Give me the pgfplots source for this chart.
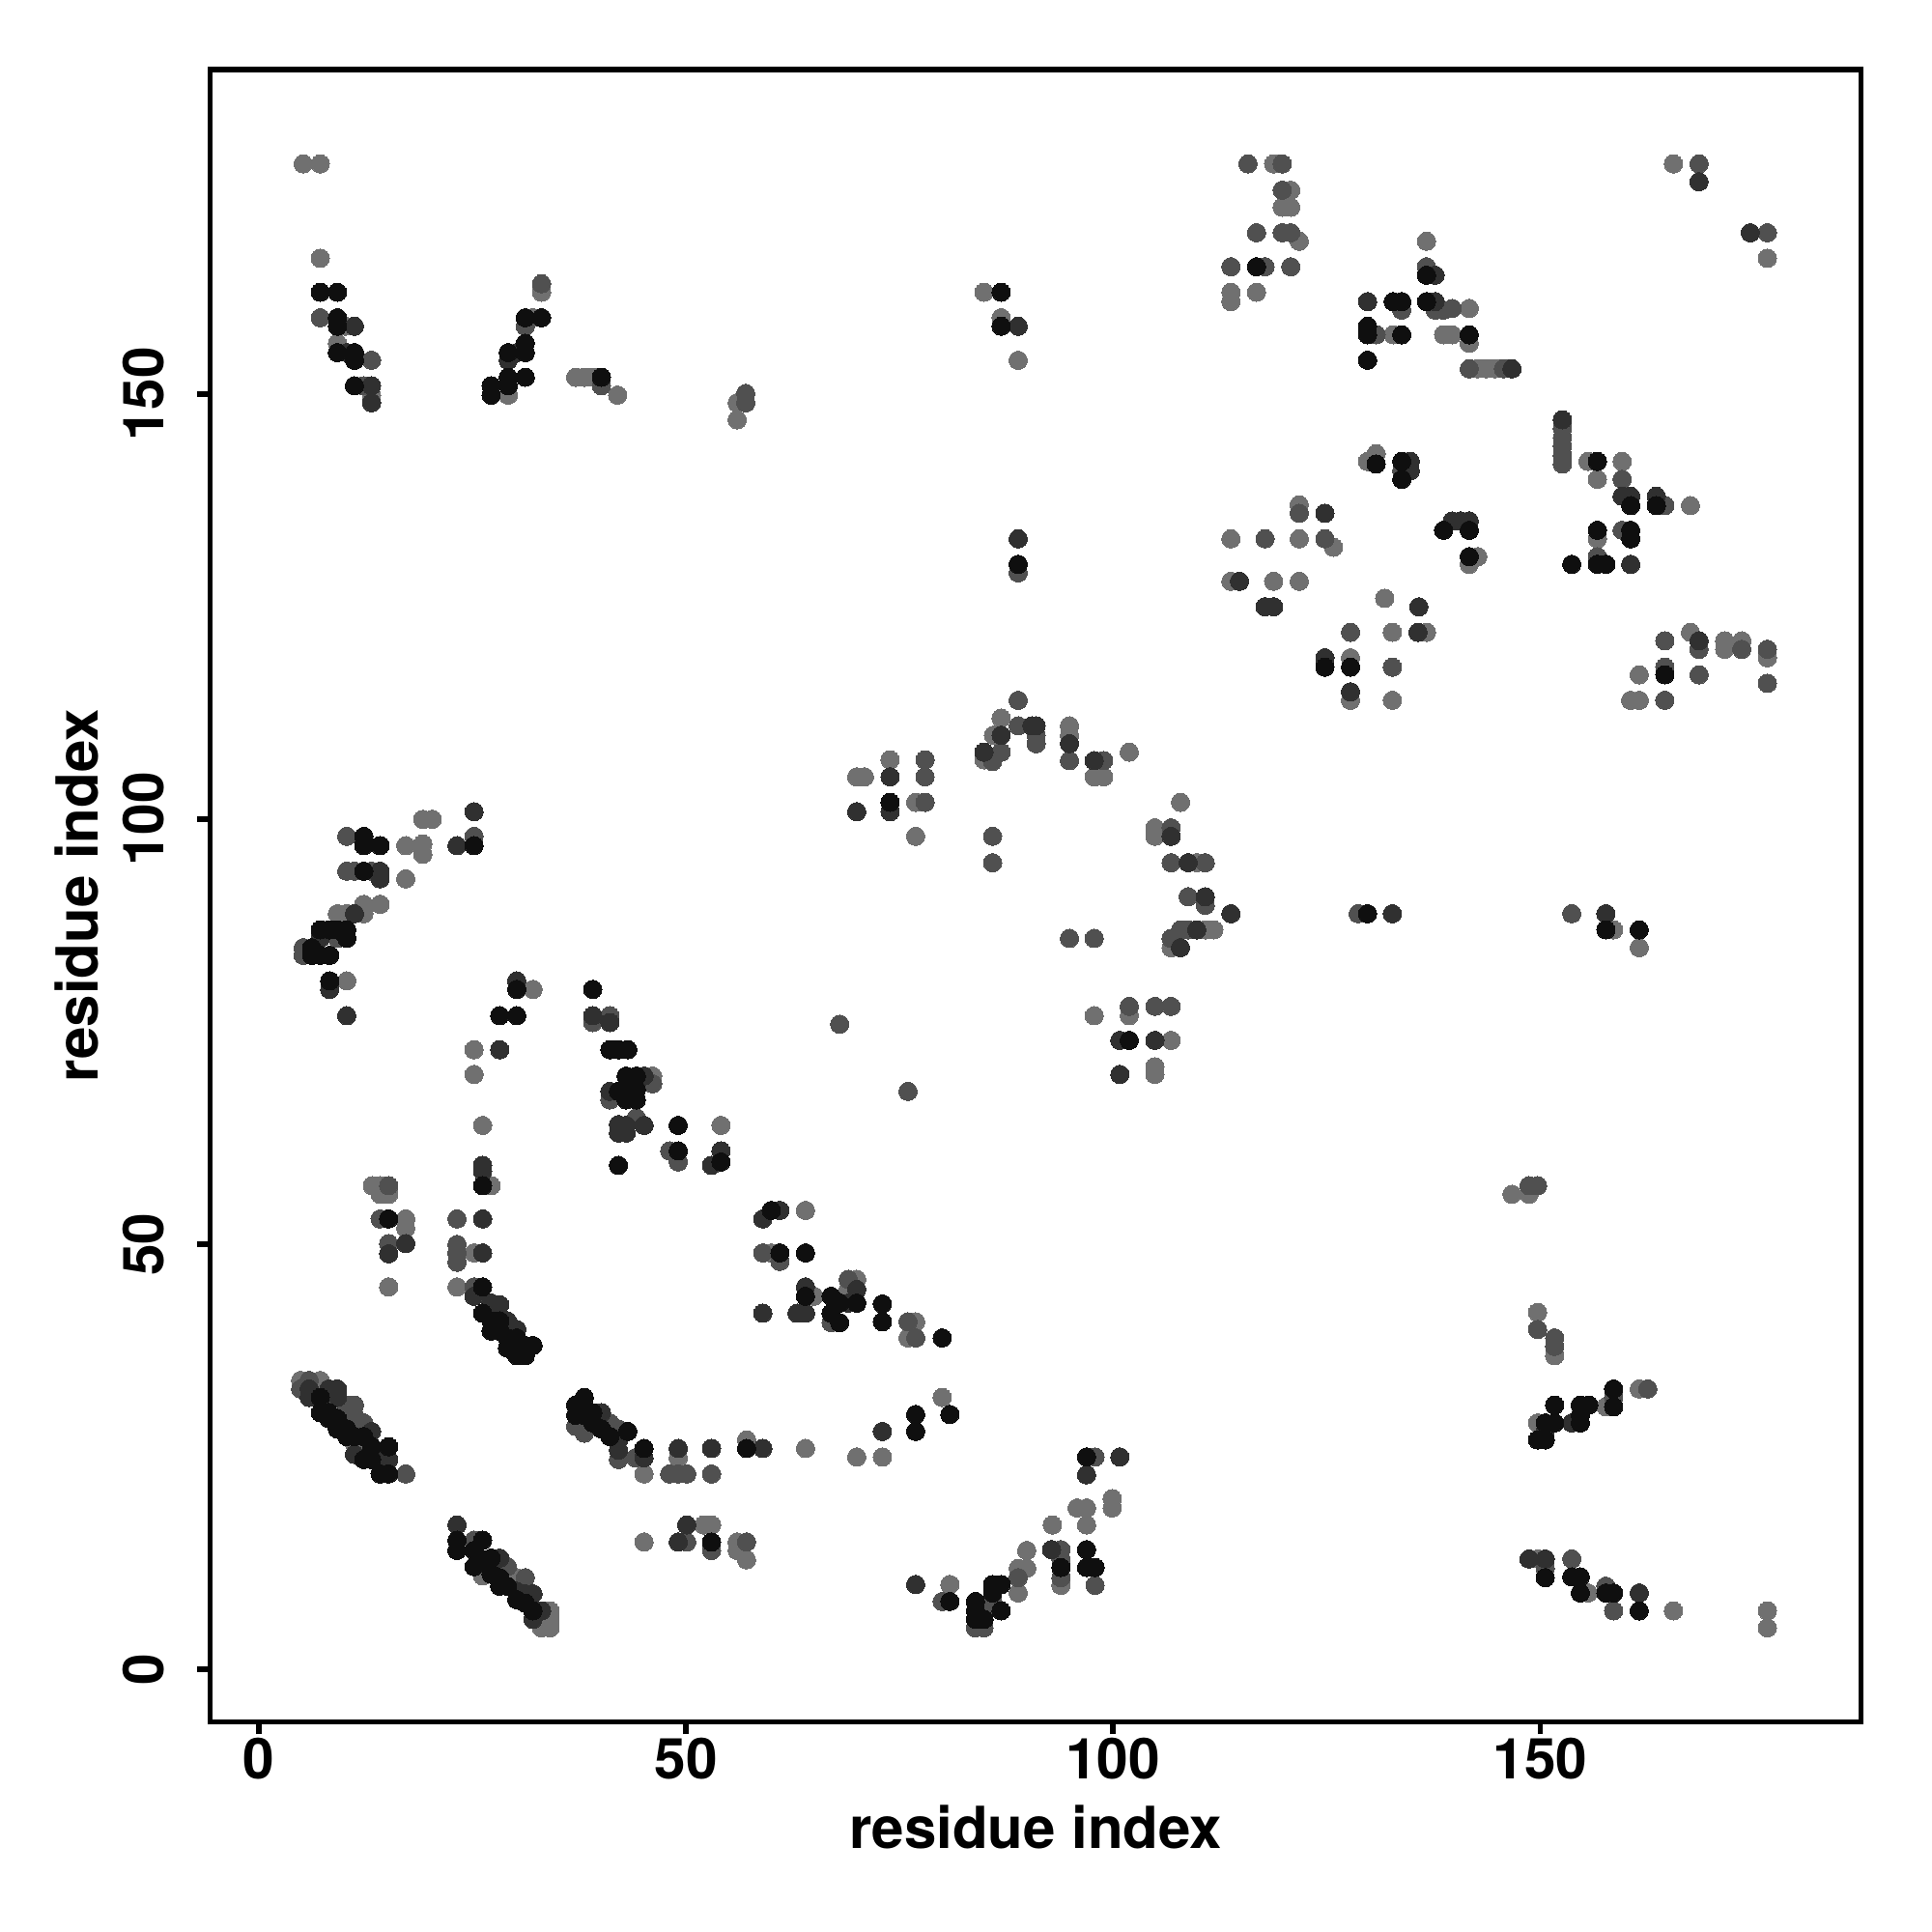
\documentclass[border=0pt]{standalone}
\usepackage{pgfplots}
\pgfplotsset{compat=1.18}
\usepackage{fontspec}
\setmainfont{TeX Gyre Heros}
\definecolor{cK}{HTML}{0F0F0F}
\definecolor{cD}{HTML}{303030}
\definecolor{cM}{HTML}{505050}
\definecolor{cL}{HTML}{707070}
\begin{document}
\begin{tikzpicture}[font=\fontsize{12}{14}\selectfont\bfseries]
\begin{axis}[
  scale only axis, width=341.8pt, height=342.1pt,
  xmin=-5.7, xmax=187.56, ymin=-6.16, ymax=188.2,
  axis line style={line width=1.1pt},
  xtick={0,50,100,150}, ytick={0,50,100,150},
  tick align=outside, major tick length=2.6pt,
  tick style={line width=1.1pt, black},
  xtick pos=bottom, ytick pos=left,
  /pgf/number format/assume math mode=true,
  ticklabel style={font=\fontsize{11.7}{14}\selectfont\bfseries},
  xticklabel style={anchor=north, inner sep=0pt, yshift=-0.5pt},
  yticklabel style={xshift=-6.6pt, rotate=90, anchor=south, inner sep=0pt},
  xlabel={residue index}, ylabel={residue index},
  xlabel style={at={(axis description cs:0.5,-0.0637)}, anchor=center},
  ylabel style={at={(axis description cs:-0.0805,0.5)}, anchor=center},
]
\addplot[only marks, mark=*, mark size=1.9pt, color=cL, mark options={line width=0pt, fill=cL}] coordinates {
(5.2,177.1)(7.2,177.1)(7.2,166.0)(10.1,158.0)(9.2,156.0)(13.2,149.9)(33.1,162.0)(32.1,159.0)(29.2,149.9)(37.1,152.0)(38.1,152.0)(39.1,152.0)(42.0,149.9)
(56.0,149.0)(56.0,147.0)(84.9,162.0)(86.9,159.0)(88.9,154.0)
(118.8,177.1)(120.8,174.0)(119.8,172.0)(120.8,172.0)(121.8,168.0)(113.8,162.0)(113.8,160.9)(116.8,162.0)(136.7,168.0)(130.8,157.0)(132.8,157.0)(138.7,157.0)(129.8,142.1)(130.8,143.0)(121.8,137.0)(113.8,133.0)(121.8,133.0)(125.8,132.0)(113.8,128.0)(118.8,128.0)(121.8,128.0)(131.8,126.0)
(165.6,177.1)(176.6,166.0)(141.7,160.1)(139.7,157.0)(141.7,156.0)(142.7,153.0)(143.7,153.0)(144.7,153.0)(155.6,142.1)(159.6,142.1)(156.7,140.0)(167.6,136.9)(142.7,130.9)(141.7,130.0)(156.7,133.0)
(19.2,100.0)(20.3,100.0)(17.2,96.9)(19.2,97.1)(19.2,95.9)(17.2,93.0)(9.2,88.9)(10.3,88.9)(12.3,90.0)(12.3,88.9)(14.2,90.0)(10.3,81.0)(32.1,80.0)(25.2,72.9)(25.2,70.0)(26.2,64.0)
(46.1,69.8)(54.1,64.0)(70.0,105.0)(70.9,105.0)(73.9,107.0)(76.9,102.0)(76.9,98.0)(86.9,111.9)(86.0,109.9)(84.9,107.0)
(132.7,122.0)(136.7,122.0)(127.8,119.0)(127.8,114.0)(132.7,114.0)(94.9,111.0)(94.9,109.9)(97.8,105.0)(98.9,105.0)(101.9,107.9)(107.9,102.0)(104.9,99.0)(104.9,98.0)(109.8,94.9)(110.8,87.0)(111.8,87.0)(106.8,84.9)(97.8,76.9)(101.9,76.9)(106.8,74.0)(104.9,70.9)(104.9,70.0)
(167.6,122.0)(171.6,121.0)(171.6,120.0)(173.6,121.0)(176.6,119.0)(161.6,117.0)(160.6,114.0)(161.6,114.0)(158.6,87.0)(161.6,84.9)
(13.3,56.9)(14.2,56.9)(14.2,55.9)(15.2,55.9)(27.2,56.9)(17.2,53.0)(17.2,51.9)(15.2,45.0)(23.2,45.0)(25.2,49.0)(4.9,34.0)(7.2,34.0)(11.2,26.5)(26.2,11.0)(30.2,10.8)(34.1,6.9)(34.1,5.9)(33.1,4.9)(34.1,4.9)
(64.0,54.0)(60.0,49.0)(65.0,43.9)(69.0,44.7)(70.0,45.9)(76.9,40.9)(76.0,39.0)(80.0,32.0)(70.0,25.0)(73.0,25.0)(64.0,26.0)(57.1,27.0)(49.1,24.9)(45.1,23.0)(52.1,17.0)(53.0,17.0)(45.1,15.0)(56.0,15.0)(56.0,14.0)(57.1,12.9)(80.9,10.0)(88.9,9.0)(88.9,11.9)(89.9,11.9)(89.9,14.0)
(95.8,19.0)(96.9,19.0)(99.9,20.1)(99.9,19.0)(92.9,17.0)(96.9,17.0)(93.9,9.9)
(146.7,55.9)(148.7,55.9)(149.7,42.0)(151.7,36.9)(157.7,30.9)(161.6,33.0)(149.7,29.0)(149.7,13.0)(155.6,9.0)(165.6,6.9)(176.6,6.9)(176.6,4.9)
};
\addplot[only marks, mark=*, mark size=1.9pt, color=cM, mark options={line width=0pt, fill=cM}] coordinates {
(7.2,159.0)(13.2,154.0)(12.3,151.0)(33.1,163.0)(31.2,158.0)(40.1,151.0)
(57.0,150.1)(57.0,149.0)
(115.8,177.1)(119.8,177.1)(119.8,174.0)(116.8,169.0)(119.8,169.0)(120.8,169.0)(113.8,165.0)(117.8,165.0)(120.8,165.0)(136.7,165.0)(133.8,159.9)(137.7,159.9)(138.7,159.9)(130.8,157.0)(133.8,141.0)(121.8,136.0)(117.8,133.0)(124.8,133.0)
(168.6,177.1)(176.6,169.0)
(139.7,160.1)(141.7,153.0)(145.7,153.0)(152.6,146.0)(152.6,144.9)(152.6,143.9)(152.6,142.8)(152.6,141.8)(159.6,140.0)(164.6,136.9)(159.6,134.0)(156.7,130.9)(88.9,129.0)
(10.3,98.0)(25.2,98.0)(10.3,93.9)(11.2,93.9)(13.2,93.9)(9.2,86.0)(5.2,84.9)(5.2,84.0)(39.1,76.1)(41.1,76.9)(41.1,67.0)
(46.1,68.9)(44.2,64.9)(48.1,61.0)(49.1,59.7)(68.0,75.9)(76.0,68.0)(78.0,107.0)(78.0,105.0)(78.0,102.0)(85.9,98.0)(85.9,94.9)(88.9,114.0)(88.9,111.0)(85.9,106.8)(86.9,107.9)
(127.8,122.0)(132.7,117.9)(91.0,109.9)(91.0,108.9)(94.9,106.9)(98.9,106.9)(106.8,99.0)(106.8,94.9)(110.8,94.9)(108.8,90.9)(110.8,89.9)(106.8,86.0)(107.9,87.0)(108.8,87.0)(94.9,86.0)(97.8,86.0)(128.7,88.9)(101.9,78.0)(104.9,78.0)(106.8,78.0)
(164.6,121.0)(168.6,120.0)(173.6,120.0)(176.6,120.0)(176.6,116.0)(164.6,117.9)(168.6,117.0)(164.6,114.0)(153.7,88.9)
(15.2,56.9)(14.2,53.0)(15.2,50.1)(23.2,53.0)(23.2,50.0)(23.2,49.0)(23.2,47.9)(25.2,45.0)(5.9,34.0)(4.9,33.0)(10.3,31.1)(11.2,31.1)(11.2,29.9)(12.3,29.0)(37.1,28.6)(38.1,27.8)(41.1,29.0)(42.1,28.3)(42.1,24.7)(25.2,15.2)(29.1,12.1)(31.2,10.8)(17.2,23.0)
(59.0,49.0)(61.0,48.0)(67.0,40.8)(69.0,45.9)(76.0,40.9)(76.9,39.0)(44.1,24.9)(48.1,23.0)(49.1,23.0)(50.1,23.0)(53.0,23.0)(50.1,15.0)(53.0,14.0)(57.1,15.0)(80.0,8.0)(83.9,4.9)(84.9,4.9)(84.9,6.9)(85.9,8.0)(88.9,10.8)
(97.9,25.0)(93.9,14.1)(93.9,12.9)(93.9,10.8)(97.9,9.9)
(148.7,56.9)(149.7,56.9)(149.7,40.0)(151.7,39.0)(151.7,38.0)(158.6,32.0)(162.6,33.0)(150.6,11.9)(153.7,13.0)(157.7,9.8)(158.6,6.9)
};
\addplot[only marks, mark=*, mark size=1.9pt, color=cD, mark options={line width=0pt, fill=cD}] coordinates {
(11.2,158.0)(10.3,154.9)(13.2,151.0)(13.2,149.0)(30.2,154.9)(29.2,154.0)
(88.9,158.0)(88.9,133.0)
(137.7,160.9)(137.7,164.0)(129.8,160.9)(134.8,142.1)(134.8,141.0)(124.8,136.0)(117.8,125.0)(118.8,125.0)(135.8,125.0)(114.8,128.0)
(168.6,175.0)(174.6,169.0)(146.7,153.0)(152.6,147.0)(159.6,138.0)(160.6,138.0)(163.6,138.0)(139.7,135.1)(140.7,135.1)(141.7,135.1)(160.6,130.0)
(25.2,100.9)(23.2,96.9)(14.2,93.9)(14.2,93.0)(11.2,88.9)(7.2,86.0)(8.3,80.0)(10.3,76.9)(30.2,81.0)(28.2,72.9)(39.1,76.9)(41.1,76.1)(26.2,59.3)(41.1,68.0)(42.1,64.1)(42.1,63.1)
(45.1,69.8)(45.1,64.0)(43.0,64.0)(43.0,63.1)(54.1,61.0)(53.0,59.3)(70.0,100.9)(73.9,105.0)(73.9,100.9)(86.9,109.9)(90.5,111.0)(84.9,107.9)
(135.7,122.0)(124.8,119.0)(127.8,115.0)(91.0,111.0)(94.9,108.9)(97.8,106.9)(106.8,98.0)(108.8,94.9)(110.8,90.9)(113.8,88.9)(109.8,87.0)(107.9,84.9)(132.7,88.9)(100.8,74.0)(104.9,74.0)(100.8,70.0)
(168.6,121.0)(157.7,88.9)
(26.2,58.6)(26.2,53.0)(17.2,50.1)(15.2,48.9)(26.2,49.0)(25.2,43.9)(27.2,43.1)(28.2,42.9)(29.1,41.0)(30.2,40.0)(5.9,33.0)(5.9,32.0)(8.2,33.0)(9.2,33.0)(9.2,32.0)(13.2,28.0)(13.2,26.2)(14.2,24.7)(15.2,24.7)(11.2,25.3)(40.1,30.2)(42.1,27.0)(42.1,25.8)(23.2,17.0)(28.2,13.1)(30.2,9.2)(31.2,8.9)(32.1,8.9)(33.1,6.9)(32.1,5.9)
(61.0,54.0)(59.0,53.0)(64.0,45.0)(59.0,41.9)(63.0,41.9)(64.0,41.9)(69.0,43.1)(70.0,44.7)(73.0,28.0)(59.0,26.0)(53.0,26.0)(49.1,26.0)(45.1,24.9)(50.1,17.0)(49.1,15.0)(76.9,10.0)
(100.8,25.0)(96.9,22.9)(92.8,14.1)
(148.7,13.0)(150.6,13.0)(161.6,9.0)(150.6,28.0)(153.7,29.0)
};
\addplot[only marks, mark=*, mark size=1.9pt, color=cK, mark options={line width=0pt, fill=cK}] coordinates {
(7.2,162.0)(9.2,162.0)(9.2,159.0)(9.2,158.0)(9.2,154.9)(11.2,154.9)(11.2,154.0)(11.2,151.0)
(31.2,159.0)(33.1,159.0)(31.2,156.0)(31.2,154.9)(29.2,154.9)(31.2,152.0)(29.2,152.0)(29.2,151.0)(27.2,151.0)(27.2,149.9)(40.1,152.0)
(86.9,162.0)(86.9,158.0)(88.9,130.0)
(116.8,165.0)(136.7,164.0)(132.8,160.9)(133.8,160.9)(136.7,160.9)(129.8,158.0)(129.8,157.0)(133.8,157.0)(129.8,154.0)(130.8,141.8)(133.8,142.1)(133.8,140.0)(138.7,134.0)
(141.7,157.0)(156.7,142.1)(160.6,136.9)(163.6,136.9)(141.7,134.0)(141.7,130.9)(156.7,134.0)(160.6,134.0)(160.6,133.0)(153.7,130.0)(156.7,130.0)(157.7,130.0)
(12.3,98.0)(12.3,96.9)(14.2,96.9)(25.2,96.9)(12.3,93.9)(7.2,87.0)(8.3,87.0)(9.2,87.0)(10.3,87.0)(10.3,86.0)(6.2,84.0)(7.2,84.0)(8.3,84.0)(6.2,84.9)(8.3,81.0)(30.2,80.0)(28.2,76.9)(30.2,76.9)(39.1,80.0)(41.1,72.9)(42.1,72.9)(42.1,68.0)
(43.2,72.9)(43.0,69.8)(43.0,68.6)(43.0,67.0)(44.2,69.8)(44.2,68.2)(44.2,67.0)(49.1,64.0)(49.1,61.0)(54.1,59.7)(42.1,59.3)
(73.9,102.0)
(124.8,117.9)(127.8,117.9)(129.8,88.9)(101.9,74.0)
(164.6,117.0)(157.7,87.0)(161.6,87.0)
(26.2,56.9)(15.2,53.0)(26.2,45.0)(26.2,41.9)(27.2,41.0)(28.2,41.0)(27.2,39.8)(28.2,39.8)(29.1,39.0)(30.2,39.0)(31.2,38.1)(32.1,38.1)(29.1,37.8)(30.2,36.9)(31.2,36.9)
(7.2,32.0)(7.2,30.2)(8.2,30.2)(8.2,29.5)(9.2,29.5)(9.2,28.3)(10.3,28.3)(10.3,27.4)(11.2,27.4)(12.3,27.4)(13.2,26.2)(15.2,26.2)(12.3,24.7)(13.2,24.7)(14.2,23.0)(15.2,23.0)
(38.1,32.0)(37.1,31.1)(37.1,29.9)(38.1,29.9)(39.1,30.2)(39.1,29.0)(40.1,28.3)(41.1,27.4)
(23.2,15.2)(23.2,14.0)(26.2,15.2)(25.2,14.0)(25.2,12.1)(26.2,12.9)(27.2,13.1)(27.2,11.2)(28.2,10.8)(28.2,9.8)(29.1,9.8)(30.2,8.2)(31.2,7.8)(32.1,6.9)
(60.0,54.0)(61.0,49.0)(64.0,49.0)(64.0,43.9)(67.0,43.9)(67.0,41.9)(68.0,43.1)(68.0,40.8)(70.0,43.1)(73.0,43.0)(73.0,40.9)(80.0,39.0)(80.9,30.0)(76.9,30.0)(76.9,28.0)(57.1,26.0)(45.1,26.0)(43.2,28.0)(53.0,15.0)(80.9,8.0)(83.9,8.0)(83.9,6.9)(83.9,5.9)(84.9,5.9)(85.9,10.0)(85.9,9.0)(86.9,10.0)(86.9,6.9)
(96.9,25.0)(93.9,12.0)(96.9,14.1)(96.9,12.0)(97.9,12.0)
(158.6,33.0)(158.6,30.9)(151.7,31.1)(154.7,31.1)(155.7,31.1)(154.7,29.9)(154.7,29.0)(150.6,29.0)(151.7,29.0)(149.7,27.0)(150.6,27.0)(150.6,10.8)(153.7,10.9)(154.7,10.9)(154.7,9.0)(157.7,9.0)(158.6,9.0)(161.6,6.9)
};
\coordinate (bbSW) at (rel axis cs:0,0);
\coordinate (bbNE) at (rel axis cs:1,1);
\end{axis}
\path[use as bounding box] ([xshift=-43.5pt,yshift=-43.5pt]bbSW) rectangle ([xshift=14.7pt,yshift=14.4pt]bbNE);
\end{tikzpicture}
\end{document}
